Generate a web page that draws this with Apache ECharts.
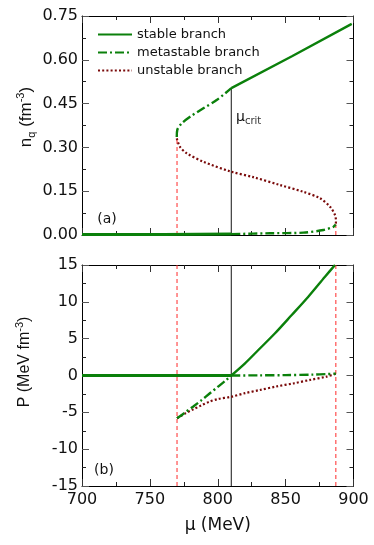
<!DOCTYPE html>
<html>
<head>
<meta charset="utf-8">
<script src="https://cdn.jsdelivr.net/npm/echarts@6/dist/echarts.min.js"></script>
<style>
  html, body { margin: 0; background: #fff; }
  #chart { width: 374px; height: 545px; }
</style>
</head>
<body>
<div id="chart"></div>
<script>
// axis ranges / ticks
const muRange = [700, 900, 50];
const nRange = [0, 0.75, 0.15];
const pRange = [-15, 15, 5];
const legendNames = ["stable branch", "metastable branch", "unstable branch"];

// special chemical potentials (MeV)
const muNose = 770;
const muSpin = 887;
const muCrit = 810;

// panel (a): n_q (fm^-3) vs mu (MeV), pairs [mu, n]
const stableLowA = [[700, 0.002], [760, 0.002], [810, 0.003]];
const stableHighA = [[810, 0.503], [855, 0.613], [898.7, 0.723]];
const metaHighA = [[769.8, 0.336], [770.2, 0.36], [773.4, 0.382], [779.6, 0.405], [789.4, 0.434], [799.2, 0.462], [810, 0.503]];
const metaLowA = [[810, 0.003], [838.5, 0.006], [863, 0.008], [877.8, 0.017], [885.1, 0.028], [886.9, 0.036]];
const unstableA = [[769.8, 0.331], [772.2, 0.302], [777.1, 0.28], [789.4, 0.251], [809.8, 0.217], [826.2, 0.198], [845.9, 0.171], [863, 0.148], [875.3, 0.126], [882.7, 0.097], [886.4, 0.068], [887.1, 0.046], [886.9, 0.036]];

// panel (b): P (MeV fm^-3) vs mu (MeV), pairs [mu, P]
const stableLowB = [[700, 0], [810, 0]];
const stableHighB = [[810, 0], [820.1, 1.65], [829.9, 3.46], [842.2, 5.73], [854.5, 8.21], [866.7, 10.7], [879, 13.41], [886.4, 15]];
const metaHighB = [[770, -5.8], [775, -5.15], [782, -4.2], [788, -3.35], [794, -2.45], [800, -1.55], [806, -0.65], [810, 0]];
const metaLowB = [[810, 0], [830, 0.02], [850, 0.05], [870, 0.12], [880, 0.19], [887, 0.25]];
const unstableB = [[770, -5.8], [776, -5.15], [782, -4.6], [788, -4.05], [794, -3.55], [800, -3.2], [810, -2.88], [820, -2.4], [831, -1.97], [843, -1.5], [856, -1.06], [868, -0.6], [880, -0.16], [887, 0.25]];

const GREEN = "#0b800b";
const DARKRED = "#7a0a0a";
const RED = "#ff2a2a";
const TXT = "#111";
const FONT = "DejaVu Sans";

const styles = {
  stable: { color: GREEN, width: 2.4, type: "solid" },
  meta: { color: GREEN, width: 2.4, type: [9, 3, 2, 3] },
  unstable: { color: DARKRED, width: 2.2, type: [2, 2.2] },
};

function xAxis(grid, pos, labels) {
  return {
    type: "value", gridIndex: grid, position: pos,
    min: muRange[0], max: muRange[1], interval: muRange[2],
    axisLine: { show: true, onZero: false, lineStyle: { color: "#000", width: 1 } },
    axisTick: { show: true, inside: true, length: 7, lineStyle: { color: "#333" } },
    minorTick: { show: true, splitNumber: 2, length: 4, lineStyle: { color: "#222" } },
    splitLine: { show: false },
    axisLabel: { show: labels, margin: 6, color: TXT, fontFamily: FONT, fontSize: 16 },
    name: labels ? "μ (MeV)" : "",
    nameLocation: "middle", nameGap: 31,
    nameTextStyle: { color: TXT, fontFamily: FONT, fontSize: 17 },
  };
}

function yAxis(grid, pos, range, labels, fmt) {
  return {
    type: "value", gridIndex: grid, position: pos,
    min: range[0], max: range[1], interval: range[2],
    axisLine: { show: true, onZero: false, lineStyle: { color: "#000", width: 1 } },
    axisTick: { show: true, inside: true, length: 7, lineStyle: { color: "#555" } },
    minorTick: { show: true, splitNumber: 2, length: 4, lineStyle: { color: "#222" } },
    splitLine: { show: false },
    axisLabel: { show: labels, margin: 4, color: TXT, fontFamily: FONT, fontSize: 16, formatter: fmt },
  };
}

function line(name, data, xi, yi, ls, z, smooth) {
  return {
    type: "line", name: name, data: data,
    xAxisIndex: xi, yAxisIndex: yi,
    symbol: "none", showSymbol: false, smooth: smooth || false, clip: true,
    itemStyle: { color: ls.color },
    lineStyle: ls, z: z || 3, silent: true,
  };
}

function vline(mu, y0, y1, xi, yi, ls) {
  return {
    type: "line", data: [[mu, y0], [mu, y1]],
    xAxisIndex: xi, yAxisIndex: yi, symbol: "none", silent: true,
    itemStyle: { color: ls.color },
    lineStyle: ls, z: 2,
  };
}

const blackLine = { color: "#3a3a3a", width: 1.2, type: "solid" };
const redDash = { color: RED, width: 1, type: [4, 3] };
const thick = Object.assign({}, styles.stable, { width: 3 });

const option = {
  animation: false,
  backgroundColor: "#fff",
  grid: [
    { left: 82, top: 16, width: 271.5, height: 219 },
    { left: 82, top: 265, width: 271.5, height: 221 },
  ],
  xAxis: [
    xAxis(0, "bottom", false), xAxis(0, "top", false),
    xAxis(1, "bottom", true), xAxis(1, "top", false),
  ],
  yAxis: [
    yAxis(0, "left", nRange, true, v => v.toFixed(2)), yAxis(0, "right", nRange, false),
    yAxis(1, "left", pRange, true, v => String(v)), yAxis(1, "right", pRange, false),
  ],
  legend: {
    data: legendNames, orient: "vertical", left: 92, top: 23,
    itemWidth: 34, itemHeight: 14, itemGap: 5,
    itemStyle: { opacity: 0 },
    textStyle: { color: TXT, fontFamily: FONT, fontSize: 13 },
    selectedMode: false,
  },
  graphic: [
    {
      type: "text", x: 26, y: 117, rotation: Math.PI / 2,
      style: {
        text: "{m|n}{s|q}{m| (fm}{p|-3}{m|)}",
        align: "center", verticalAlign: "middle", fill: TXT,
        rich: {
          m: { fontFamily: "Liberation Sans", fontSize: 17, lineHeight: 22, fill: TXT },
          s: { fontFamily: "Liberation Sans", fontSize: 11, lineHeight: 11, verticalAlign: "bottom", fill: TXT },
          p: { fontFamily: "Liberation Sans", fontSize: 11, lineHeight: 11, verticalAlign: "top", fill: TXT },
        },
      },
    },
    {
      type: "text", x: 25, y: 362, rotation: Math.PI / 2,
      style: {
        text: "{m|P (MeV fm}{p|-3}{m|)}",
        align: "center", verticalAlign: "middle", fill: TXT,
        rich: {
          m: { fontFamily: "Liberation Sans", fontSize: 16, lineHeight: 22, fill: TXT },
          p: { fontFamily: "Liberation Sans", fontSize: 11, lineHeight: 11, verticalAlign: "top", fill: TXT },
        },
      },
    },
    {
      type: "text", x: 236, y: 117,
      style: {
        text: "{m|μ}{s|crit}",
        align: "left", verticalAlign: "middle", fill: TXT,
        rich: {
          m: { fontFamily: FONT, fontSize: 14, lineHeight: 18, fill: TXT },
          s: { fontFamily: FONT, fontSize: 10, lineHeight: 10, verticalAlign: "bottom", fill: "#333" },
        },
      },
    },
    { type: "text", x: 107, y: 219, style: { text: "(a)", align: "center", verticalAlign: "middle", fill: TXT, font: "14px DejaVu Sans" } },
    { type: "text", x: 104, y: 470, style: { text: "(b)", align: "center", verticalAlign: "middle", fill: TXT, font: "14px DejaVu Sans" } },
  ],
  series: [
    // reference lines, panel (a)
    vline(muCrit, 0, stableHighA[0][1], 0, 0, blackLine),
    vline(muNose, 0, unstableA[0][1], 0, 0, redDash),
    vline(muSpin, 0, metaLowA[metaLowA.length - 1][1], 0, 0, redDash),
    // reference lines, panel (b)
    vline(muCrit, pRange[0], pRange[1], 2, 2, blackLine),
    vline(muNose, pRange[0], pRange[1], 2, 2, redDash),
    vline(muSpin, pRange[0], pRange[1], 2, 2, redDash),
    // panel (a)
    line(legendNames[0], stableLowA, 0, 0, thick, 5),
    line(legendNames[0], stableHighA, 0, 0, styles.stable, 5),
    line(legendNames[1], metaHighA, 0, 0, styles.meta, 4, 0.3),
    line(legendNames[1], metaLowA, 0, 0, styles.meta, 4, 0.3),
    line(legendNames[2], unstableA, 0, 0, styles.unstable, 3, 0.3),
    // panel (b)
    line(legendNames[0], stableLowB, 2, 2, thick, 5),
    line(legendNames[0], stableHighB, 2, 2, styles.stable, 5, 0.3),
    line(legendNames[1], metaHighB, 2, 2, styles.meta, 4, 0.3),
    line(legendNames[1], metaLowB, 2, 2, styles.meta, 4, 0.3),
    line(legendNames[2], unstableB, 2, 2, styles.unstable, 3, 0.3),
  ],
};

const chart = echarts.init(document.getElementById("chart"), null, { renderer: "canvas" });
chart.setOption(option);
</script>
</body>
</html>
